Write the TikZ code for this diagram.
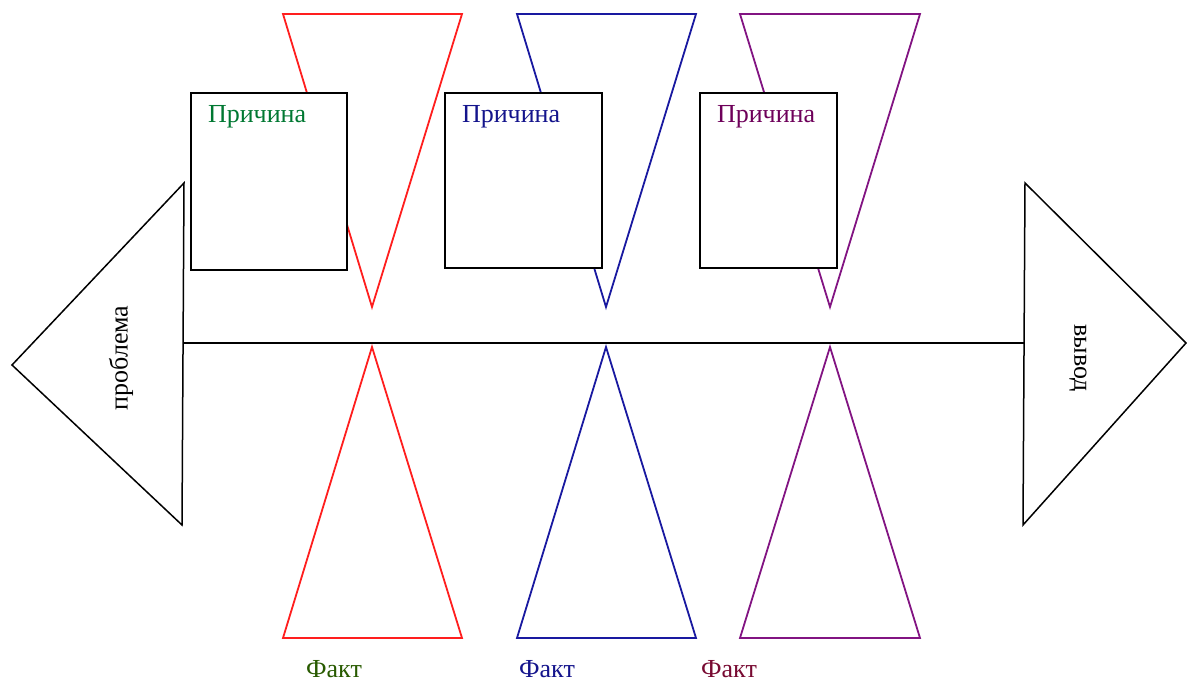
\documentclass[tikz,border=0pt]{standalone}
\usepackage{fontspec}
\setmainfont{Liberation Serif}
\usepackage{xcolor}
\usetikzlibrary{positioning, calc}

\definecolor{boneRed}{RGB}{255,30,30}
\definecolor{boneBlue}{RGB}{25,25,160}
\definecolor{bonePurple}{RGB}{130,20,130}
\definecolor{txtGreen}{RGB}{0,120,50}
\definecolor{txtOlive}{RGB}{40,90,0}
\definecolor{txtBlue}{RGB}{20,20,140}
\definecolor{txtPurple}{RGB}{110,0,90}
\definecolor{txtMaroon}{RGB}{120,10,50}

\begin{document}
\begin{tikzpicture}[x=1pt, y=-1pt, line join=miter, font=\fontsize{26}{28}\selectfont,
    bone/.style={line width=1.8pt},
    causebox/.style={draw, line width=1.6pt, fill=white, inner sep=0pt},
    head/.style={draw, line width=1.5pt},
    fact/.style={anchor=base, inner sep=0pt}]
    \useasboundingbox (0,0) rectangle (1187,684);

    % head and tail of the fish
    \draw[head] (184,183) -- (12,365) -- (182,525) -- cycle;
    \draw[head] (1025,183) -- (1186,343) -- (1023,525) -- cycle;
    \coordinate (tail) at (183,343);
    \coordinate (nose) at (1024,343);
    \draw[line width=1.4pt] (tail) -- (nose);
    \node[rotate=90] (problem) at (121,358) {проблема};
    \node[rotate=-90] (result) at (1078,358) {вывод};

    % upper bones
    \draw[bone, boneRed] (283,14) -- (462,14) -- (372,307) -- cycle;
    \draw[bone, boneBlue] (517,14) -- (696,14) -- (606,307) -- cycle;
    \draw[bone, bonePurple] (740,14) -- (920,14) -- (830,307) -- cycle;

    % lower bones
    \draw[bone, boneRed] (372,347) -- (462,638) -- (283,638) -- cycle;
    \draw[bone, boneBlue] (606,347) -- (696,638) -- (517,638) -- cycle;
    \draw[bone, bonePurple] (830,347) -- (920,638) -- (740,638) -- cycle;

    % cause boxes
    \node[causebox, minimum width=156, minimum height=177] (cause1) at (269,181.5) {};
    \node[causebox, minimum width=157, minimum height=175] (cause2) at (523.5,180.5) {};
    \node[causebox, minimum width=137, minimum height=175] (cause3) at (768.5,180.5) {};
    \node[anchor=west, text=txtGreen] at (204.5,117) {Причина};
    \node[anchor=west, text=txtBlue] at (458.5,117) {Причина};
    \node[anchor=west, text=txtPurple] at (713.5,117) {Причина};

    % facts
    \node[fact, text=txtOlive] (fact1) at (334,677) {Факт};
    \node[fact, text=txtBlue] (fact2) at (547,677) {Факт};
    \node[fact, text=txtMaroon] (fact3) at (729,677) {Факт};
\end{tikzpicture}
\end{document}
